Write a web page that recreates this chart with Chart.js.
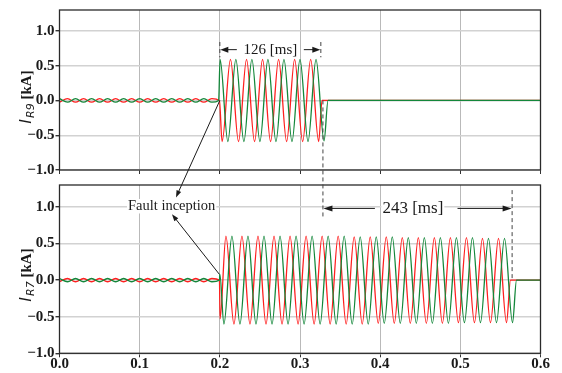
<!DOCTYPE html>
<html>
<head>
<meta charset="utf-8">
<script src="https://cdn.jsdelivr.net/npm/chart.js@4.4.0/dist/chart.umd.min.js"></script>
<style>
html, body { margin: 0; padding: 0; background: #fff; }
#wrap { position: relative; width: 562px; height: 373px; }
canvas { position: absolute; left: 0; top: 0; }
</style>
</head>
<body>
<div id="wrap">
<canvas id="topC" width="562" height="180"></canvas>
<canvas id="botC" width="562" height="373"></canvas>
</div>
<script>
// axis ticks
var xTicks = [0, 0.1, 0.2, 0.3, 0.4, 0.5, 0.6];
var xTickLabels = ['0.0', '0.1', '0.2', '0.3', '0.4', '0.5', '0.6'];
var yTicks = [-1, -0.5, 0, 0.5, 1];
var yTickLabels = ['\u22121.0', '\u22120.5', '0.0', '0.5', '1.0'];

// I_R9 (top), extrema [s], [kA]
var gTopT = [0,0.01,0.02,0.03,0.04,0.05,0.06,0.07,0.08,0.09,0.1,0.11,0.12,0.13,0.14,0.15,0.16,0.17,0.18,0.19,
  0.1985,0.2003,0.21,0.22,0.23,0.24,0.25,0.26,0.27,0.28,0.29,0.3,0.31,0.32,0.33,0.335,0.6];
var gTopV = [0.025,-0.025,0.025,-0.025,0.025,-0.025,0.025,-0.025,0.025,-0.025,0.025,-0.025,0.025,-0.025,0.025,-0.025,0.025,-0.025,0.025,-0.025,
  0,0.59,-0.59,0.59,-0.59,0.59,-0.59,0.59,-0.59,0.59,-0.59,0.59,-0.59,0.59,-0.58,0,0];
var rTopT = [0,0.01,0.02,0.03,0.04,0.05,0.06,0.07,0.08,0.09,0.1,0.11,0.12,0.13,0.14,0.15,0.16,0.17,0.18,0.19,
  0.1995,0.2028,0.2133,0.2233,0.2333,0.2433,0.2533,0.2633,0.2733,0.2833,0.2933,0.3033,0.3133,0.3233,0.3275,0.6];
var rTopV = [-0.025,0.025,-0.025,0.025,-0.025,0.025,-0.025,0.025,-0.025,0.025,-0.025,0.025,-0.025,0.025,-0.025,0.025,-0.025,0.025,-0.025,0.025,
  0,-0.59,0.59,-0.59,0.59,-0.59,0.59,-0.59,0.59,-0.59,0.59,-0.59,0.59,-0.59,0,0];

// I_R7 (bottom)
var gBotT = [0,0.01,0.02,0.03,0.04,0.05,0.06,0.07,0.08,0.09,0.1,0.11,0.12,0.13,0.14,0.15,0.16,0.17,0.18,0.19,
  0.1995,0.2,0.2051,0.2151,0.2251,0.2351,0.2451,0.2551,0.2651,0.2751,0.2851,0.2951,0.3051,0.3151,0.3251,0.3351,0.3451,0.3551,
  0.3651,0.3751,0.3851,0.3951,0.4051,0.4151,0.4251,0.4351,0.4451,0.4551,0.4651,0.4751,0.4851,0.4951,0.5051,0.5151,0.5251,
  0.5351,0.5451,0.5551,0.5651,0.5701,0.6];
var gBotV = [0.022,-0.022,0.022,-0.022,0.022,-0.022,0.022,-0.022,0.022,-0.022,0.022,-0.022,0.022,-0.022,0.022,-0.022,0.022,-0.022,0.022,-0.022,
  0,0.08,-0.6,0.6,-0.6,0.6,-0.6,0.6,-0.6,0.6,-0.6,0.6,-0.6,0.6,-0.6,0.6,-0.6,0.6,
  -0.6,0.59,-0.6,0.59,-0.59,0.59,-0.59,0.58,-0.59,0.58,-0.59,0.58,-0.59,0.58,-0.58,0.58,-0.58,
  0.57,-0.58,0.57,-0.58,0,0];
var rBotT = [0,0.01,0.02,0.03,0.04,0.05,0.06,0.07,0.08,0.09,0.1,0.11,0.12,0.13,0.14,0.15,0.16,0.17,0.18,0.19,
  0.1995,0.2003,0.2076,0.2176,0.2276,0.2376,0.2476,0.2576,0.2676,0.2776,0.2876,0.2976,0.3076,0.3176,0.3276,0.3376,0.3476,
  0.3576,0.3676,0.3776,0.3876,0.3976,0.4076,0.4176,0.4276,0.4376,0.4476,0.4576,0.4676,0.4776,0.4876,0.4976,0.5076,0.5176,
  0.5276,0.5376,0.5476,0.5576,0.5626,0.6];
var rBotV = [-0.022,0.022,-0.022,0.022,-0.022,0.022,-0.022,0.022,-0.022,0.022,-0.022,0.022,-0.022,0.022,-0.022,0.022,-0.022,0.022,-0.022,0.022,
  0,-0.53,0.6,-0.6,0.6,-0.6,0.6,-0.6,0.6,-0.6,0.6,-0.6,0.6,-0.6,0.6,-0.6,0.6,
  -0.6,0.59,-0.6,0.59,-0.59,0.59,-0.59,0.58,-0.59,0.58,-0.59,0.58,-0.59,0.58,-0.58,0.58,-0.58,
  0.57,-0.58,0.57,-0.58,0,0];

var RED = '#ff1f1f';
var GREEN = '#13873a';
var INK = '#1a1a1a';
var SERIF = '"Liberation Serif", "Times New Roman", serif';

function pts(T, V) {
  return T.map(function (t, i) { return { x: t, y: V[i] }; });
}

function series(T, V, color) {
  return {
    data: pts(T, V),
    borderColor: color,
    borderWidth: 1.3,
    pointRadius: 0,
    cubicInterpolationMode: 'monotone',
    fill: false
  };
}

function arrow(ctx, x1, y1, x2, y2, len, half) {
  var a = Math.atan2(y2 - y1, x2 - x1);
  var c = Math.cos(a), s = Math.sin(a);
  ctx.beginPath();
  ctx.moveTo(x1, y1);
  ctx.lineTo(x2 - c * len * 0.5, y2 - s * len * 0.5);
  ctx.stroke();
  ctx.beginPath();
  ctx.moveTo(x2, y2);
  ctx.lineTo(x2 - len * c + half * s, y2 - len * s - half * c);
  ctx.lineTo(x2 - len * c - half * s, y2 - len * s + half * c);
  ctx.closePath();
  ctx.fill();
}

function dashed(ctx, x, y1, y2) {
  ctx.save();
  ctx.strokeStyle = '#444';
  ctx.lineWidth = 1;
  ctx.setLineDash([4, 3]);
  ctx.beginPath();
  ctx.moveTo(x, y1);
  ctx.lineTo(x, y2);
  ctx.stroke();
  ctx.restore();
}

function label(ctx, text, x, y, size, align) {
  ctx.font = size + 'px ' + SERIF;
  ctx.textAlign = align || 'center';
  ctx.textBaseline = 'middle';
  var w = ctx.measureText(text).width;
  var left = ctx.textAlign === 'left' ? x : x - w / 2;
  ctx.fillStyle = '#fff';
  ctx.fillRect(left - 1, y - size / 2, w + 2, size);
  ctx.fillStyle = INK;
  ctx.fillText(text, x, y);
}

function drawYTitle(ctx, cx, cy, sub) {
  ctx.save();
  ctx.translate(cx, cy);
  ctx.rotate(-Math.PI / 2);
  var f1 = 'italic 16px "DejaVu Sans"';
  var f2 = 'italic 11px "DejaVu Sans"';
  var f3 = 'bold 15px ' + SERIF;
  ctx.font = f1; var w1 = ctx.measureText('I').width;
  ctx.font = f2; var w2 = ctx.measureText(sub).width;
  ctx.font = f3; var w3 = ctx.measureText(' [kA]').width;
  var x = -(w1 + w2 + w3 + 1) / 2;
  var base = 6;
  ctx.fillStyle = INK;
  ctx.textAlign = 'left';
  ctx.textBaseline = 'alphabetic';
  ctx.font = f1; ctx.fillText('I', x, base); x += w1 + 1;
  ctx.font = f2; ctx.fillText(sub, x, base + 3); x += w2;
  ctx.font = f3; ctx.fillText(' [kA]', x, base);
  ctx.restore();
}

function frame(chart) {
  var a = chart.chartArea, ctx = chart.ctx;
  ctx.save();
  ctx.strokeStyle = '#2a2a2a';
  ctx.lineWidth = 1.3;
  ctx.strokeRect(a.left, a.top, a.right - a.left, a.bottom - a.top);
  ctx.restore();
}

function scales(showX, xHeight) {
  return {
    x: {
      type: 'linear', min: 0, max: 0.6,
      afterBuildTicks: function (s) { s.ticks = xTicks.map(function (v) { return { value: v }; }); },
      afterFit: function (s) { s.height = xHeight; },
      ticks: {
        display: showX,
        padding: -2,
        maxRotation: 0,
        color: INK,
        font: { family: SERIF, weight: 'bold', size: 15 },
        callback: function (v, i) { return xTickLabels[i]; }
      },
      grid: { color: '#b9b9b9', lineWidth: 1, tickLength: 4, tickColor: '#333' },
      border: { display: false }
    },
    y: {
      type: 'linear', min: -1, max: 1.3,
      afterBuildTicks: function (s) { s.ticks = yTicks.map(function (v) { return { value: v }; }); },
      afterFit: function (s) { s.width = 59.5; },
      ticks: {
        padding: 1,
        color: INK,
        font: { family: SERIF, weight: 'bold', size: 15 },
        callback: function (v, i) { return yTickLabels[i]; }
      },
      grid: { color: '#d2d2d2', lineWidth: 1.4, tickLength: 4, tickColor: '#333' },
      border: { display: false }
    }
  };
}

var topChart = new Chart(document.getElementById('topC'), {
  type: 'line',
  data: { datasets: [series(gTopT, gTopV, GREEN), series(rTopT, rTopV, RED)] },
  options: {
    responsive: false,
    animation: false,
    layout: { padding: { left: 0, right: 21.5, top: 6, bottom: 0 } },
    plugins: { legend: { display: false }, tooltip: { enabled: false } },
    scales: scales(false, 6.7)
  },
  plugins: [{
    id: 'topDeco',
    afterDraw: function (chart) {
      var ctx = chart.ctx, xs = chart.scales.x, ys = chart.scales.y;
      frame(chart);
      drawYTitle(ctx, 25, 97, 'R9');
      var x0 = xs.getPixelForValue(0.2), x1 = xs.getPixelForValue(0.326);
      var ya = ys.getPixelForValue(0.73);
      dashed(ctx, x0, ys.getPixelForValue(0.84), ys.getPixelForValue(0.62));
      dashed(ctx, x1, ys.getPixelForValue(0.84), ys.getPixelForValue(0.62));
      ctx.save();
      ctx.strokeStyle = INK; ctx.fillStyle = INK; ctx.lineWidth = 1;
      arrow(ctx, x0 + 17, ya, x0 + 0.5, ya, 8, 3);
      arrow(ctx, x1 - 17, ya, x1 - 0.5, ya, 8, 3);
      label(ctx, '126 [ms]', (x0 + x1) / 2, ya, 15);
      ctx.restore();
    }
  }]
});

var botChart = new Chart(document.getElementById('botC'), {
  type: 'line',
  data: { datasets: [series(gBotT, gBotV, GREEN), series(rBotT, rBotV, RED)] },
  options: {
    responsive: false,
    animation: false,
    layout: { padding: { left: 0, right: 21.5, top: 185, bottom: 0 } },
    plugins: { legend: { display: false }, tooltip: { enabled: false } },
    scales: scales(true, 19.7)
  },
  plugins: [{
    id: 'botDeco',
    afterDraw: function (chart) {
      var ctx = chart.ctx, xs = chart.scales.x, ys = chart.scales.y;
      var tys = topChart.scales.y;
      frame(chart);
      drawYTitle(ctx, 25, 275, 'R7');

      // trip marks
      var xa = xs.getPixelForValue(0.3286), xb = xs.getPixelForValue(0.5646);
      dashed(ctx, xa, tys.getPixelForValue(0), ys.getPixelForValue(0.87));
      dashed(ctx, xb, ys.getPixelForValue(1.23), ys.getPixelForValue(0));
      var yb = ys.getPixelForValue(0.98);
      ctx.save();
      ctx.strokeStyle = INK; ctx.fillStyle = INK; ctx.lineWidth = 1;
      arrow(ctx, xs.getPixelForValue(0.3934), yb, xa + 0.5, yb, 9, 3);
      arrow(ctx, xs.getPixelForValue(0.4965), yb, xb - 0.5, yb, 9, 3);
      label(ctx, '243 [ms]', xs.getPixelForValue(0.4408), yb, 17);

      // fault inception
      var xf = xs.getPixelForValue(0.2);
      arrow(ctx, xf, tys.getPixelForValue(0), xs.getPixelForValue(0.1453), ys.getPixelForValue(1.13), 7, 2.5);
      arrow(ctx, xf - 0.5, ys.getPixelForValue(0.08), xs.getPixelForValue(0.1403), ys.getPixelForValue(0.9), 7, 2.5);
      label(ctx, 'Fault inception', xs.getPixelForValue(0.0854), ys.getPixelForValue(1.01), 14.5, 'left');
      ctx.restore();
    }
  }]
});
</script>
</body>
</html>
